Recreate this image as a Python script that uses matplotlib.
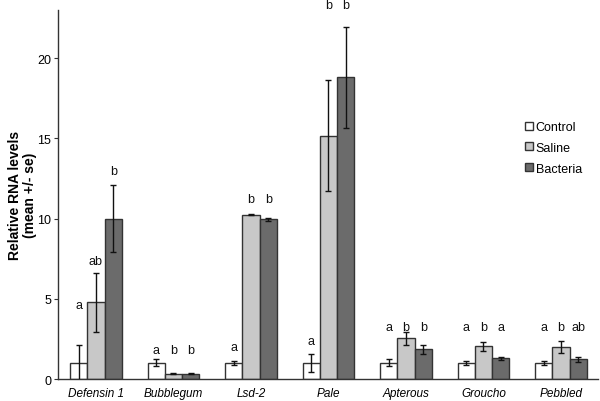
import matplotlib
matplotlib.use("Agg")
import matplotlib.pyplot as plt
import numpy as np

plt.rcParams['font.family'] = ['Liberation Sans', 'DejaVu Sans']

genes = ["Defensin 1", "Bubblegum", "Lsd-2", "Pale", "Apterous", "Groucho", "Pebbled"]
series = ["Control", "Saline", "Bacteria"]
control = [1.0, 1.0, 1.0, 1.0, 1.0, 1.0, 1.0]
control_se = [1.1, 0.22, 0.12, 0.55, 0.22, 0.1, 0.13]
saline = [4.77, 0.32, 10.24, 15.17, 2.53, 2.03, 1.97]
saline_se = [1.85, 0.03, 0.05, 3.45, 0.4, 0.28, 0.38]
bacteria = [10.0, 0.32, 9.95, 18.8, 1.85, 1.29, 1.22]
bacteria_se = [2.1, 0.03, 0.08, 3.15, 0.28, 0.1, 0.17]

control_letters = ["a", "a", "a", "a", "a", "a", "a"]
saline_letters = ["ab", "b", "b", "b", "b", "b", "b"]
bacteria_letters = ["b", "b", "b", "b", "b", "a", "ab"]
control_letter_y = [4.6, 1.8, 2.0, 2.38, 3.25, 3.25, 3.25]
saline_letter_y = [7.36, 1.8, 11.24, 23.3, 3.25, 3.25, 3.25]
bacteria_letter_y = [12.95, 1.8, 11.24, 23.3, 3.25, 3.25, 3.25]

colors = ["#ffffff", "#c8c8c8", "#6b6b6b"]
edge = "#333333"

fig = plt.figure(figsize=(6.0, 4.02), dpi=100)
ax = fig.add_axes([0.0967, 0.0547, 0.9003, 0.9183])

x = np.arange(len(genes))
w = 0.223
vals = [control, saline, bacteria]
ses = [control_se, saline_se, bacteria_se]
letters = [control_letters, saline_letters, bacteria_letters]
letter_y = [control_letter_y, saline_letter_y, bacteria_letter_y]

for i in range(3):
    pos = x + (i - 1) * w
    ax.bar(pos, vals[i], w, color=colors[i], edgecolor=edge, linewidth=1.0,
           label=series[i], zorder=2)
    ax.errorbar(pos, vals[i], yerr=ses[i], fmt='none', ecolor='#111111',
                elinewidth=1.0, capsize=2.5, capthick=1.0, zorder=3)
    for p, t, yy in zip(pos, letters[i], letter_y[i]):
        ax.text(p, yy, t, ha='center', va='center', fontsize=9,
                color='#111111', clip_on=False)

ax.set_xlim(-0.49, 6.48)
ax.set_ylim(0, 23)
ax.set_yticks([0, 5, 10, 15, 20])
ax.set_xticks(x)
ax.set_xticklabels(genes, fontstyle='italic', fontsize=8.5)
ax.tick_params(axis='x', length=0, pad=6)
ax.tick_params(axis='y', length=3, width=0.8, labelsize=9, direction='out',
               color='#333333', pad=2)
for s in ['top', 'right']:
    ax.spines[s].set_visible(False)
for s in ['left', 'bottom']:
    ax.spines[s].set_color('#333333')
    ax.spines[s].set_linewidth(1.0)

ax.set_ylabel("Relative RNA levels\n(mean +/- se)", fontsize=10,
              fontweight='bold', labelpad=0, linespacing=1.1)

leg = ax.legend(loc='upper left', bbox_to_anchor=(0.865, 0.712),
                bbox_transform=fig.transFigure, frameon=False,
                fontsize=9, handlelength=0.6, handleheight=0.6,
                handletextpad=0.25, labelspacing=0.7, borderpad=0)

fig.savefig("out.png", dpi=100)
